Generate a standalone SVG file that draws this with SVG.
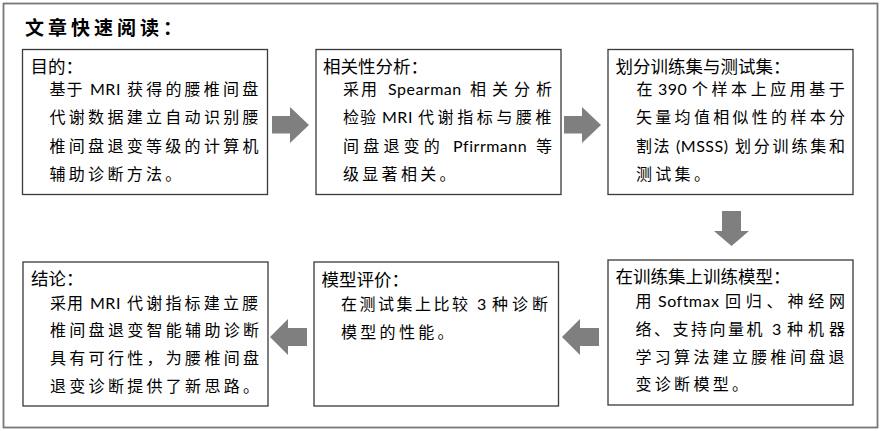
<svg xmlns="http://www.w3.org/2000/svg" width="884" height="431" viewBox="0 0 884 431">
<style>
.frame{fill:#fff;stroke:#777;stroke-width:1.8}
.box{fill:#fff;stroke:#3a3a3a;stroke-width:1.3}
.title{font-family:"Noto Sans CJK SC",sans-serif;font-size:19px;font-weight:bold;letter-spacing:4px;fill:#000}
.hd{font-family:"Noto Sans CJK SC",sans-serif;font-size:17.5px;fill:#000}
.bd{font-family:Lato,"Noto Sans CJK SC",sans-serif;font-size:16px;fill:#000}
.ls{letter-spacing:3.3px}
.lat{letter-spacing:0.5px}
.arr{fill:#7f7f7f}
</style>
<rect class="frame" x="3.5" y="3.5" width="874" height="424"/>
<text class="title" x="25" y="34.5">文章快速阅读：</text>

<g id="connectors">
<polygon class="arr" points="272,116 290,116 290,107 309,125 290,143 290,133.5 272,133.5"/>
<polygon class="arr" points="564,116 582,116 582,107 601,125 582,143 582,133.5 564,133.5"/>
<polygon class="arr" points="722,211 741,211 741,231 749,231 731.5,246 714,231 722,231"/>
<polygon class="arr" points="599,328 580,328 580,319 562,337 580,355 580,346 599,346"/>
<polygon class="arr" points="307,328 288,328 288,319 270,337 288,355 288,346 307,346"/>
</g>

<g id="node-objective">
<rect class="box" x="22.5" y="49.5" width="245" height="145"/>
<text class="hd" x="30.5" y="72.5">目的：</text>
<text class="bd" y="94.5"><tspan x="49.5" style="letter-spacing:1px">基于 </tspan><tspan x="90" class="lat">MRI </tspan><tspan x="127" style="letter-spacing:3.2px">获得的腰椎间盘</tspan></text>
<text class="bd" x="49.5" y="123" textLength="209" lengthAdjust="spacing">代谢数据建立自动识别腰</text>
<text class="bd" x="49.5" y="151.5" textLength="209" lengthAdjust="spacing">椎间盘退变等级的计算机</text>
<text class="bd ls" x="49.5" y="180">辅助诊断方法。</text>
</g>

<g id="node-correlation">
<rect class="box" x="316" y="49.5" width="245" height="145"/>
<text class="hd" x="323" y="72.5">相关性分析：</text>
<text class="bd" y="94.5"><tspan x="343" style="letter-spacing:2px">采用 </tspan><tspan x="388" class="lat">Spearman </tspan><tspan x="470" style="letter-spacing:6px">相关分析</tspan></text>
<text class="bd" y="123"><tspan x="343" style="letter-spacing:1px">检验 </tspan><tspan x="382" class="lat">MRI </tspan><tspan x="418" style="letter-spacing:3.6px">代谢指标与腰椎</tspan></text>
<text class="bd" y="151.5"><tspan x="343" style="letter-spacing:4.2px">间盘退变的 </tspan><tspan x="453" class="lat">Pfirrmann </tspan><tspan x="536">等</tspan></text>
<text class="bd ls" x="343" y="180">级显著相关。</text>
</g>

<g id="node-split">
<rect class="box" x="608" y="49.5" width="245" height="145"/>
<text class="hd" x="615.5" y="73">划分训练集与测试集：</text>
<text class="bd" y="94.5"><tspan x="636.5">在 </tspan><tspan x="658" class="lat">390 </tspan><tspan x="692" style="letter-spacing:3.55px">个样本上应用基于</tspan></text>
<text class="bd" x="636" y="123" textLength="209" lengthAdjust="spacing">矢量均值相似性的样本分</text>
<text class="bd" y="151.5"><tspan x="636" style="letter-spacing:1.5px">割法 </tspan><tspan x="676" class="lat">(MSSS) </tspan><tspan x="735" style="letter-spacing:2.8px">划分训练集和</tspan></text>
<text class="bd ls" x="636" y="180">测试集。</text>
</g>

<g id="node-train">
<rect class="box" x="608" y="260" width="245" height="145"/>
<text class="hd" x="615.5" y="282.5">在训练集上训练模型：</text>
<text class="bd" y="306.5"><tspan x="635.5">用 </tspan><tspan x="658" class="lat">Softmax </tspan><tspan x="725" style="letter-spacing:4.8px">回归、神经网</tspan></text>
<text class="bd" y="334.5"><tspan x="635.5" style="letter-spacing:2.5px">络、支持向量机 </tspan><tspan x="772" class="lat">3 </tspan><tspan x="787" style="letter-spacing:5px">种机器</tspan></text>
<text class="bd" x="635.5" y="362.5" textLength="209" lengthAdjust="spacing">学习算法建立腰椎间盘退</text>
<text class="bd ls" x="635.5" y="390">变诊断模型。</text>
</g>

<g id="node-evaluation">
<rect class="box" x="314" y="262" width="244.5" height="144"/>
<text class="hd" x="321.5" y="285.5">模型评价：</text>
<text class="bd" y="310"><tspan x="341" style="letter-spacing:2.5px">在测试集上比较 </tspan><tspan x="477" class="lat">3 </tspan><tspan x="492" style="letter-spacing:4px">种诊断</tspan></text>
<text class="bd ls" x="341" y="337.5">模型的性能。</text>
</g>

<g id="node-conclusion">
<rect class="box" x="23" y="262" width="245" height="144"/>
<text class="hd" x="31" y="284.5">结论：</text>
<text class="bd" y="308.5"><tspan x="50" style="letter-spacing:1px">采用 </tspan><tspan x="90" class="lat">MRI </tspan><tspan x="127" style="letter-spacing:3.2px">代谢指标建立腰</tspan></text>
<text class="bd" x="50" y="336" textLength="209" lengthAdjust="spacing">椎间盘退变智能辅助诊断</text>
<text class="bd" x="50" y="363.5" textLength="209" lengthAdjust="spacing">具有可行性，为腰椎间盘</text>
<text class="bd" x="50" y="391.5" textLength="209" lengthAdjust="spacing">退变诊断提供了新思路。</text>
</g>
</svg>
